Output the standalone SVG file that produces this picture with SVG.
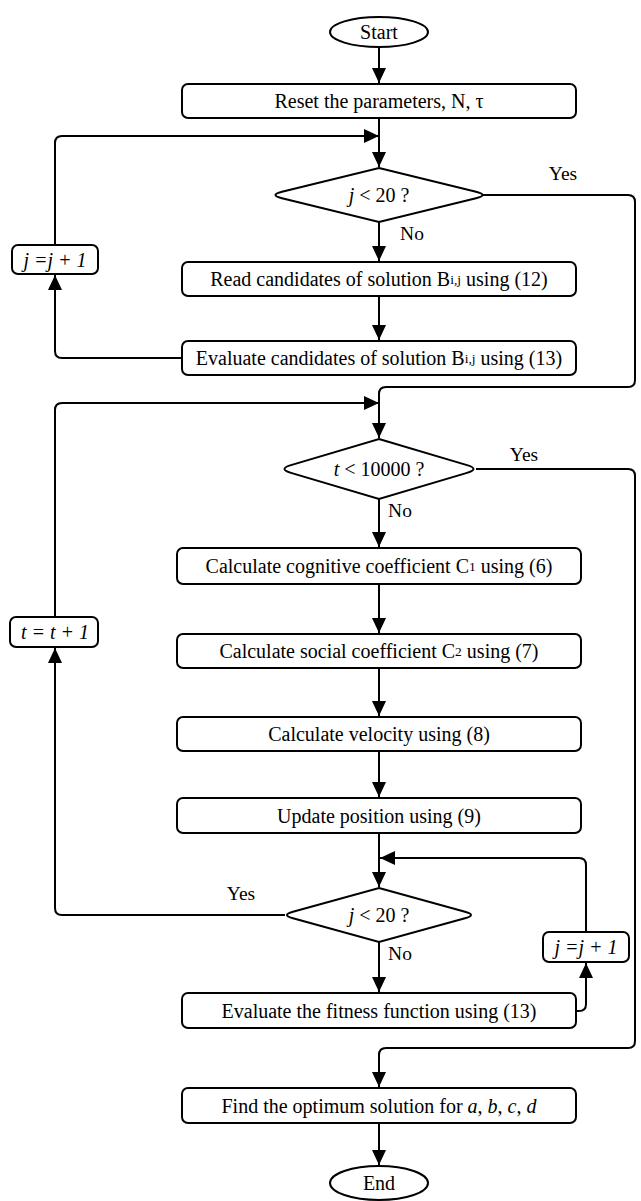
<svg xmlns="http://www.w3.org/2000/svg" width="641" height="1201" viewBox="0 0 641 1201">
<defs>
<style>
.shape{fill:#fff;stroke:#000;stroke-width:2}
.line{fill:none;stroke:#000;stroke-width:2}
text{font-family:"Liberation Serif","Times New Roman","DejaVu Serif",serif;font-size:20px;fill:#000;text-anchor:middle;dominant-baseline:central}
.it{font-style:italic}
.sub{font-size:13.5px}
.lbl{font-size:19.5px}
</style>
<marker id="ah" markerUnits="userSpaceOnUse" markerWidth="16" markerHeight="16" refX="15" refY="7" orient="auto">
<path d="M0,0 L15,7 L0,14 Z" fill="#000"/>
</marker>
</defs>
<rect width="641" height="1201" fill="#fff"/>
<g id="connectors">
<path class="line" d="M379,47 V83" marker-end="url(#ah)"/>
<path class="line" d="M379,118 V167" marker-end="url(#ah)"/>
<path class="line" d="M55,245 V143 Q55,136 62,136 H379" marker-end="url(#ah)"/>
<path class="line" d="M182,358 H62 Q55,358 55,351 V275" marker-end="url(#ah)"/>
<path class="line" d="M482,195 H628 Q635,195 635,202 V380 Q635,387 628,387 H386 Q379,387 379,394 V438" marker-end="url(#ah)"/>
<path class="line" d="M379,222 V261" marker-end="url(#ah)"/>
<path class="line" d="M379,296 V340" marker-end="url(#ah)"/>
<path class="line" d="M55,617 V410 Q55,403 62,403 H379" marker-end="url(#ah)"/>
<path class="line" d="M476,469 H628 Q635,469 635,476 V1041 Q635,1048 628,1048 H386 Q379,1048 379,1055 V1087" marker-end="url(#ah)"/>
<path class="line" d="M379,499 V547" marker-end="url(#ah)"/>
<path class="line" d="M379,584 V633" marker-end="url(#ah)"/>
<path class="line" d="M379,668 V716" marker-end="url(#ah)"/>
<path class="line" d="M379,751 V797" marker-end="url(#ah)"/>
<path class="line" d="M379,833 V887" marker-end="url(#ah)"/>
<path class="line" d="M586,932 V865 Q586,858 579,858 H380" marker-end="url(#ah)"/>
<path class="line" d="M285,915 H62 Q55,915 55,908 V648" marker-end="url(#ah)"/>
<path class="line" d="M379,942 V992" marker-end="url(#ah)"/>
<path class="line" d="M576,1011 H579 Q586,1011 586,1004 V963" marker-end="url(#ah)"/>
<path class="line" d="M379,1123 V1165" marker-end="url(#ah)"/>
<text x="563" y="173" class="lbl">Yes</text>
<text x="412" y="233" class="lbl">No</text>
<text x="524" y="454" class="lbl">Yes</text>
<text x="400" y="510" class="lbl">No</text>
<text x="241" y="893" class="lbl">Yes</text>
<text x="400" y="953" class="lbl">No</text>
</g>
<g id="start">
<ellipse class="shape" cx="379" cy="32" rx="49" ry="15"/>
<text x="379" y="32">Start</text>
</g>
<g id="reset">
<rect class="shape" x="182" y="84" width="394" height="34" rx="6"/>
<text x="379" y="101">Reset the parameters, N, τ</text>
</g>
<g id="decision-j1">
<path class="shape" d="M379,168 L476,191.8 Q489,195 476,198.2 L379,222 L282,198.2 Q269,195 282,191.8 Z"/>
<text x="379" y="195"><tspan class="it">j</tspan> &lt; 20 ?</text>
</g>
<g id="inc-j1">
<rect class="shape" x="12" y="245" width="86" height="29" rx="6"/>
<text x="55" y="259.5" class="it">j =j + 1</text>
</g>
<g id="read">
<rect class="shape" x="182" y="262" width="394" height="34" rx="6"/>
<text x="379" y="279">Read candidates of solution B<tspan class="sub">i,j</tspan> using (12)</text>
</g>
<g id="eval-cand">
<rect class="shape" x="182" y="341" width="394" height="34" rx="6"/>
<text x="379" y="358">Evaluate candidates of solution B<tspan class="sub">i,j</tspan> using (13)</text>
</g>
<g id="decision-t">
<path class="shape" d="M379,439 L467,465.1 Q480,469 467,472.9 L379,499 L291,472.9 Q278,469 291,465.1 Z"/>
<text x="379" y="469"><tspan class="it">t</tspan> &lt; 10000 ?</text>
</g>
<g id="cognitive">
<rect class="shape" x="177" y="548" width="404" height="36" rx="6"/>
<text x="379" y="566">Calculate cognitive coefficient C<tspan class="sub">1</tspan> using (6)</text>
</g>
<g id="inc-t">
<rect class="shape" x="10" y="617" width="88" height="30" rx="6"/>
<text x="55" y="632" class="it">t = t + 1</text>
</g>
<g id="social">
<rect class="shape" x="177" y="634" width="404" height="34" rx="6"/>
<text x="379" y="651">Calculate social coefficient C<tspan class="sub">2</tspan> using (7)</text>
</g>
<g id="velocity">
<rect class="shape" x="177" y="717" width="404" height="34" rx="6"/>
<text x="379" y="734">Calculate velocity using (8)</text>
</g>
<g id="update">
<rect class="shape" x="177" y="798" width="404" height="35" rx="6"/>
<text x="379" y="815.5">Update position using (9)</text>
</g>
<g id="decision-j2">
<path class="shape" d="M379,888 L465,911.7 Q477,915 465,918.3 L379,942 L293,918.3 Q281,915 293,911.7 Z"/>
<text x="379" y="915"><tspan class="it">j</tspan> &lt; 20 ?</text>
</g>
<g id="inc-j2">
<rect class="shape" x="543" y="932" width="86" height="30" rx="6"/>
<text x="586" y="947" class="it">j =j + 1</text>
</g>
<g id="eval-fitness">
<rect class="shape" x="182" y="993" width="394" height="35" rx="6"/>
<text x="379" y="1010.5">Evaluate the fitness function using (13)</text>
</g>
<g id="find">
<rect class="shape" x="182" y="1088" width="394" height="35" rx="6"/>
<text x="379" y="1105.5">Find the optimum solution for <tspan class="it">a</tspan>, <tspan class="it">b</tspan>, <tspan class="it">c</tspan>, <tspan class="it">d</tspan></text>
</g>
<g id="end">
<ellipse class="shape" cx="379" cy="1183" rx="49" ry="17"/>
<text x="379" y="1183">End</text>
</g>
</svg>
